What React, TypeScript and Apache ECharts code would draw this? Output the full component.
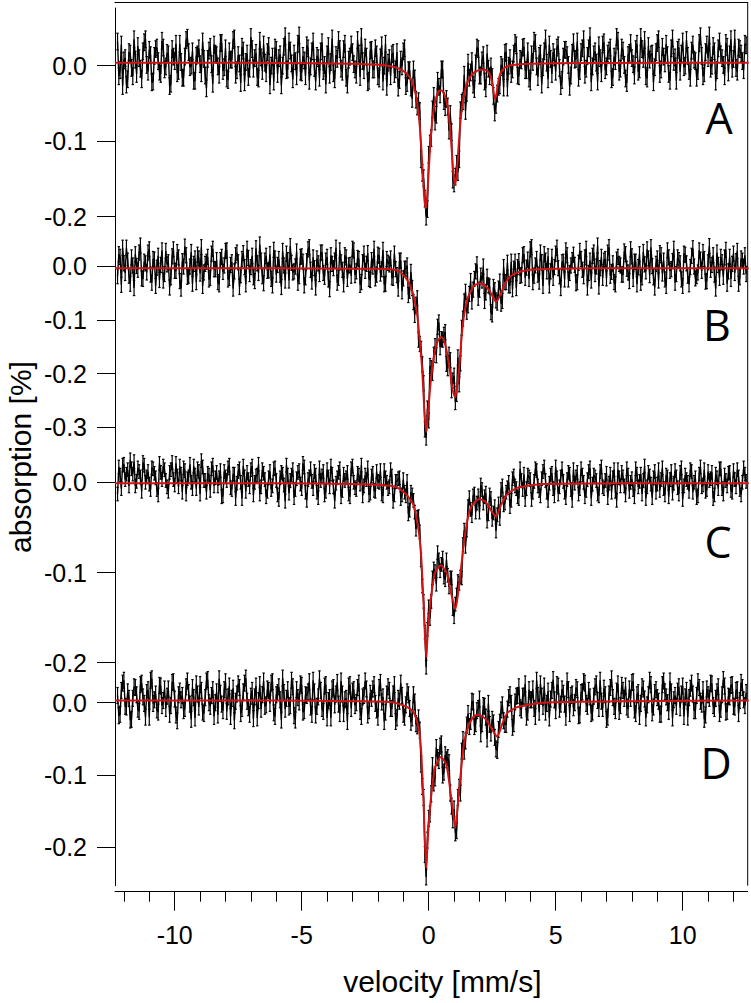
import { useEffect, useRef } from "react";
import * as echarts from "echarts";

// channel velocities (mm/s): even channels start at V_START, odd channels at V_START_ODD
const V_START = -12.25;
const V_START_ODD = -12.2;
const V_STEP = 0.1;

// measured absorption, in units of 0.001 %  (even channels)
const dataA = [
  32,-6,-27,10,-18,16,-14,8,26,-4,19,35,-8,14,-21,22,6,-11,24,-1,
  15,-24,12,29,-7,5,-16,34,18,0,-20,13,23,-10,9,-30,20,2,28,14,
  -12,30,-2,-17,19,8,36,-6,3,25,-22,16,-4,22,10,-15,33,-7,4,18,
  -26,12,24,-11,15,0,39,-5,20,-18,6,29,-8,13,-14,23,-1,32,-21,10,
  19,-7,-25,26,5,-10,14,34,-4,22,-16,8,28,2,-12,16,38,-6,12,-20,
  21,-5,15,-17,27,0,-28,10,15,-11,18,-19,-1,23,-23,-6,-44,-17,-54,-60,
  -142,-176,-190,-103,-58,-74,-20,-38,-5,-55,-54,-64,-151,-147,-141,-59,-47,-60,4,-9,
  -25,3,22,-13,14,-30,-4,-1,-40,-52,-28,1,-29,18,0,-11,16,27,-14,7,
  25,-6,-17,15,33,-1,13,-25,19,4,28,-11,11,24,-3,-19,21,14,-28,17,
  8,32,-7,23,-12,13,39,-1,19,-21,10,28,-6,16,24,-15,6,33,-4,20,
  -17,14,30,2,22,-8,38,9,-14,26,15,-22,18,35,-5,12,29,-11,23,5,
  -20,24,16,-2,34,-7,20,8,-16,30,13,-10,28,40,0,19,-6,32,10,-14,
  25,15,-4,36,-8,22,6,29,
];
// odd channels
const dataA2 = [
  -14,28,7,-25,18,-3,35,-11,10,-18,31,1,21,-22,13,24,-8,33,-5,17,
  -27,22,6,-10,29,-16,12,37,-2,19,-20,15,2,32,-13,9,25,-24,16,-1,
  30,-7,23,-19,8,34,-12,14,-23,20,5,-15,38,-4,17,-17,11,28,-10,26,
  0,-21,21,10,-26,25,-6,32,3,16,-14,40,-9,7,27,-20,19,-3,13,-16,
  31,1,15,-12,36,-18,9,22,-8,29,-25,12,18,-5,34,-15,6,24,-22,20,
  -5,23,-14,11,-21,29,4,-14,17,-5,-29,8,19,-27,-6,-29,-5,-45,-47,-124,
  -149,-200,-118,-96,-40,-65,-28,-5,-47,-44,-86,-88,-156,-130,-124,-49,-12,-36,-16,6,
  -31,24,-13,7,-21,16,-14,-15,-62,-37,-26,-2,17,-29,10,-5,30,-13,9,24,
  -6,19,-21,5,30,-15,16,-2,36,-18,9,18,-8,27,-27,12,21,1,-13,31,
  9,-16,18,35,-4,23,-22,15,4,27,-10,31,-1,20,-18,12,38,-8,24,1,
  -23,17,10,-13,29,-5,22,34,-17,8,16,-2,30,-11,25,3,14,-20,36,11,
  21,-8,32,0,13,-16,28,6,-7,39,-14,18,10,-4,26,-21,23,15,1,30,
  -9,35,9,-3,24,16,-6,27,
];
const dataB = [
  -19,17,34,-13,10,-33,1,22,-7,38,-24,5,25,-16,13,-37,19,2,-27,28,
  7,-21,31,-9,16,-42,-1,20,-18,26,4,-30,14,35,-12,8,-25,23,-6,11,
  -34,17,1,29,-22,7,-10,25,-39,13,-2,32,-15,19,-28,5,40,-19,10,-9,
  22,-36,14,2,-16,28,-27,11,37,-12,-1,-31,17,8,-21,31,-7,16,-40,5,
  25,-13,10,-25,20,-4,34,-22,7,-34,16,1,-18,29,-10,13,-30,23,4,-24,
  11,32,-16,19,-6,-34,13,3,-21,23,-17,10,-47,-5,1,-46,-41,-91,-60,-145,
  -183,-304,-265,-186,-199,-149,-113,-151,-137,-123,-190,-175,-213,-253,-170,-181,-98,-48,-73,-28,
  -44,-10,-59,-18,-1,-49,-36,-86,-39,-64,-42,-70,-2,-30,-36,8,-5,-41,9,-17,
  22,-3,-24,35,-18,13,-29,7,22,-10,-36,17,-2,34,-19,7,-25,20,-13,11,
  2,-30,28,-7,16,-40,10,19,-15,38,-4,-22,13,25,-18,5,-34,17,1,-16,
  22,-12,31,-24,8,-2,-31,26,-10,14,35,-21,4,-27,20,10,-37,16,-6,32,
  -15,11,-25,23,5,-34,19,-1,-19,29,-9,13,-28,37,2,-16,25,-22,7,16,
  -33,17,4,-13,28,-21,10,20,
];
const dataB2 = [
  22,-35,5,34,-18,16,-41,0,25,-23,8,-12,31,-31,12,-3,-26,29,-15,3,
  -40,18,-9,26,-28,9,36,-20,-1,-33,14,21,-14,-37,4,17,-22,32,-6,-30,
  11,-11,28,-25,2,-42,20,7,-17,24,-34,15,-2,-21,33,-13,10,-32,19,-8,
  -24,30,-16,13,-39,1,23,-27,6,-10,27,-19,18,-36,9,35,-29,-4,14,-15,
  25,-20,17,-43,4,10,-31,29,-7,20,-24,2,32,-17,15,-35,7,-9,24,-26,
  -1,-23,21,-14,30,-33,6,14,-22,-6,-42,10,-23,-5,-54,-11,-67,-72,-137,-154,
  -218,-319,-287,-190,-165,-166,-105,-136,-128,-182,-165,-231,-204,-238,-220,-115,-66,-85,-52,-66,
  -24,3,-44,-27,-65,-20,-38,-90,-45,-68,-29,-65,-30,6,-36,-43,8,-2,-18,20,
  -22,12,31,-30,1,-16,25,-37,10,18,-10,-22,23,-4,-41,8,29,-25,1,21,
  -32,6,13,-19,32,-13,-27,25,-1,-38,17,10,-23,35,-11,-30,12,4,-16,27,
  -5,-28,18,8,-34,22,-21,3,31,-17,0,-40,14,24,-14,-25,29,-9,9,-31,
  16,5,-37,21,-18,-2,33,-23,-12,12,26,-29,7,-7,20,-42,2,17,-20,30,
  -10,-24,23,9,-33,14,-1,-15,
];
const dataC = [
  -13,8,19,3,14,25,9,-4,16,6,22,0,12,-8,15,5,-14,11,18,2,
  -10,14,3,21,-5,9,16,-13,6,0,18,-7,12,24,2,-11,8,15,-4,11,
  5,-16,12,2,19,-8,9,-1,15,-18,6,11,-5,18,0,8,-13,14,3,-10,
  12,-4,16,-14,5,9,-21,8,2,14,-8,11,-2,21,-11,3,15,-7,8,-17,
  2,12,-10,6,18,-5,-1,11,-16,9,5,-13,15,0,-8,8,19,-4,3,-14,
  7,-9,12,0,-13,13,0,-5,7,-14,1,5,-14,-11,1,-31,-14,-33,-39,-55,
  -115,-166,-163,-151,-106,-99,-78,-98,-84,-108,-103,-106,-140,-135,-110,-105,-69,-71,-27,-30,
  -15,-33,-15,-3,-23,-12,-35,-18,-34,-54,-24,-8,-25,-11,0,-20,7,-7,-18,2,
  9,-7,6,-19,1,13,-9,4,17,-11,-1,10,-15,5,-5,15,-11,3,9,-20,
  -1,11,-7,8,-16,3,16,-2,6,-13,12,-5,2,-17,9,5,-10,14,-4,6,
  -14,8,0,-8,15,-5,9,2,-18,11,-2,5,-11,14,3,-7,8,-16,12,-1,
  6,-13,16,-4,3,-10,12,0,-17,9,-5,14,-8,2,11,-14,5,15,-7,8,
  -4,11,-11,3,14,-8,0,9,
];
const dataC2 = [
  17,-7,20,9,-4,15,23,1,12,-10,19,6,-2,16,10,-8,21,3,14,-5,
  11,22,-3,7,18,-11,13,4,20,-7,8,15,-13,17,2,10,-9,19,5,-4,
  13,-15,6,16,-6,9,-18,12,0,18,-10,3,14,-14,7,20,-5,10,-16,5,
  -8,15,2,-19,11,-3,19,-12,8,-17,4,13,-7,17,-20,6,1,12,-11,16,
  7,-14,14,-5,9,-21,5,15,-9,2,11,-16,18,-6,10,-2,-15,8,16,-12,
  10,-10,1,13,-15,5,-7,14,-21,1,4,-18,3,-15,-35,-11,-20,-52,-38,-86,
  -132,-205,-138,-132,-96,-113,-86,-91,-105,-86,-116,-106,-149,-125,-112,-106,-53,-53,-17,-37,
  -13,-23,-33,-8,-16,-43,-14,-41,-27,-36,-40,-4,-23,-6,-27,4,-4,-16,15,-8,
  -19,8,3,-11,15,-4,-15,12,2,-20,8,-7,17,-13,6,1,-17,11,-8,14,
  6,-13,15,0,-9,12,-18,8,2,-15,17,-7,10,-1,-11,14,-20,5,11,-4,
  15,-10,4,-16,9,1,-13,18,-5,7,-17,12,-2,-9,16,-14,6,3,-12,13,
  -6,11,-19,8,0,14,-11,5,-15,17,-3,-10,12,4,-18,9,-7,15,-13,2,
  10,-9,13,-5,6,-14,16,1,
];
const dataD = [
  10,-16,27,-5,15,-24,6,21,-9,25,8,-20,18,31,-1,12,-13,23,3,-8,
  19,-4,29,-17,11,4,-11,22,14,-23,7,26,-6,17,-15,30,0,10,-19,15,
  33,-2,18,-12,23,6,-25,12,21,-8,27,2,-16,17,8,-21,25,11,-5,19,
  -1,29,-19,14,4,34,-9,18,-4,22,-24,7,26,-13,11,15,-6,31,-17,8,
  17,-12,25,3,-21,21,12,-2,30,-15,6,23,-8,18,0,27,-19,10,19,-11,
  6,25,-10,21,1,-26,12,17,-8,25,-21,2,10,-20,15,-8,-21,1,-32,-38,
  -116,-210,-190,-154,-87,-104,-76,-60,-100,-72,-76,-125,-162,-180,-131,-125,-51,-53,-15,-26,
  1,-29,-8,-43,-4,-20,-1,-42,-28,-64,-37,-10,-25,-30,7,-1,-29,9,22,-10,
  9,-20,18,4,-8,31,-13,9,23,-1,-21,17,4,25,-9,19,-2,30,-15,12,
  0,18,-17,15,27,-5,8,-13,22,3,31,-8,11,-20,21,7,-11,26,-4,17,
  23,-9,6,29,-15,14,-1,19,-21,11,25,-6,18,2,-16,30,8,-12,15,4,
  -5,22,12,-19,17,7,27,-11,10,21,-2,-23,19,6,26,-8,15,-15,11,23,
  -12,8,25,-6,18,3,21,-4,
];
const dataD2 = [
  -18,17,31,-6,6,-23,22,11,-12,27,-1,14,-20,33,4,-10,24,-4,19,9,
  -16,28,5,-25,16,10,-8,30,-2,21,-21,12,25,-13,7,32,-5,18,0,-17,
  13,-11,29,8,-19,20,2,26,-15,15,34,-7,9,-22,23,3,-9,30,-3,17,
  27,-14,11,22,-24,14,6,-6,31,-18,18,1,24,-11,10,29,-16,15,-5,33,
  -8,23,-21,7,19,-3,28,-15,12,4,-26,25,16,-4,21,-12,8,30,-17,13,
  19,-1,-20,28,8,-13,22,-8,12,-26,6,27,-16,-3,11,-27,11,-29,-21,-85,
  -131,-241,-160,-126,-111,-62,-80,-57,-96,-79,-83,-143,-147,-177,-117,-67,-67,-31,-33,2,
  -33,-11,5,-29,-5,-50,-30,-23,-48,-66,-27,-3,-30,-9,11,-34,1,10,-7,9,
  26,-13,4,19,-19,10,26,-5,-13,16,5,32,-11,23,-2,13,-20,18,10,-7,
  21,-18,14,29,-1,17,-15,9,26,-8,2,20,-23,12,33,-5,16,-12,24,6,
  -6,19,28,-10,11,-19,22,5,-3,31,-14,14,7,-16,25,15,0,30,-21,10,
  16,-7,23,8,-20,20,12,-11,29,2,18,-17,11,27,-4,6,22,-9,32,-13,
  9,24,-5,17,-15,28,4,14,
];

// statistical error (half length of error bar), %
const errA = 0.011;
const errB = 0.014;
const errC = 0.0075;
const errD = 0.011;

// fitted curves: velocity (mm/s) and absorption (0.001 %)
const fitAV = [-12.35,-6,-3,-2,-1.5,-1.2,-1.0,-0.85,-0.7,-0.6,-0.5,-0.42,-0.35,-0.28,-0.22,-0.17,-0.12,-0.07,-0.02,0.05,0.12,0.2,0.3,0.4,0.48,0.56,0.65,0.75,0.84,0.92,0.98,1.04,1.1,1.17,1.25,1.35,1.47,1.6,1.75,1.9,2.05,2.2,2.32,2.42,2.5,2.56,2.62,2.68,2.75,2.85,3.0,3.2,3.5,4.0,5,7,12.6];
const fitAY = [3.9,3.7,2.7,1.2,-0.9,-3.5,-6.8,-10.9,-18.0,-26.2,-39.5,-56.9,-80.3,-114.3,-150.3,-177.1,-188.6,-177.9,-151.9,-111.4,-80.2,-57.3,-41.5,-34.3,-32.5,-34.3,-40.5,-55.8,-82.0,-117.6,-145.3,-157.7,-144.3,-110.4,-74.5,-45.7,-27.2,-16.7,-10.4,-7.0,-5.4,-5.3,-7.2,-12.3,-22.5,-35.8,-44.5,-35.3,-19.8,-8.3,-2.5,0.2,1.6,2.5,3.2,3.6,3.9];
const fitBV = [-12.35,-6,-3,-2,-1.5,-1.2,-0.95,-0.75,-0.6,-0.45,-0.35,-0.26,-0.18,-0.1,-0.02,0.09,0.2,0.3,0.4,0.48,0.58,0.7,0.82,0.94,1.04,1.12,1.2,1.3,1.4,1.55,1.78,2.02,2.2,2.35,2.49,2.58,2.65,2.72,2.85,3.0,3.2,3.5,4.0,5,8,12.6];
const fitBY = [-4,-4,-5,-5,-6,-9,-19,-35,-55,-92,-140,-190,-260,-309,-270,-210,-170,-147,-136,-132,-136,-156,-190,-230,-244,-225,-190,-130,-90,-58,-37,-32,-36,-43,-54,-62,-67,-63,-50,-33,-20,-12,-7,-5,-4,-4];
const fitCV = [-12.35,-6,-3,-2,-1.3,-0.9,-0.6,-0.4,-0.3,-0.2,-0.1,-0.02,0.08,0.25,0.48,0.7,0.9,1.05,1.2,1.4,1.6,1.8,2.0,2.25,2.45,2.65,2.85,3.1,3.5,4.5,8,12.6];
const fitCY = [-1,-1,-2,-3,-5,-13,-25,-53,-80,-135,-194,-160,-130,-100,-92,-100,-125,-141,-114,-64,-33,-22,-18.5,-22,-31,-38,-25,-13,-6,-2,-1,-1];
const fitDV = [-12.35,-6,-3,-1.5,-0.9,-0.6,-0.4,-0.3,-0.2,-0.1,-0.02,0.08,0.25,0.48,0.7,0.9,1.05,1.2,1.4,1.6,1.8,2.0,2.25,2.45,2.7,2.9,3.1,3.5,4.5,8,12.6];
const fitDY = [3,3,2,1,-5,-13,-35,-65,-140,-229,-180,-135,-90,-75,-86,-135,-173,-120,-54,-29,-18,-17,-23,-34,-47,-29,-14,-6,0,2,3];

const panelLabels = ["A", "B", "C", "D"];
const yTicks = [
  [0, -0.1, -0.2],
  [0, -0.1, -0.2, -0.3],
  [0, -0.1, -0.2],
  [0, -0.1, -0.2],
];
const xMajorTicks = [-10, -5, 0, 5, 10];
const xMinorTicks = [-12, -11, -9, -8, -7, -6, -4, -3, -2, -1, 1, 2, 3, 4, 6, 7, 8, 9, 11, 12];

const X_MIN = -12.35;
const X_MAX = 12.56;
const FONT = "'Liberation Sans', Arial, Helvetica, sans-serif";

// layout (pixels)
const PLOT_LEFT = 115;
const PLOT_RIGHT = 3.3;
const panels = [
  { top: 8, height: 232, min: -0.2309, max: 0.0764 },
  { top: 240, height: 212, min: -0.3459, max: 0.04835 },
  { top: 452, height: 223, min: -0.2136, max: 0.0336 },
  { top: 675, height: 210.7, min: -0.2531, max: 0.0383 },
];
const labelPos = [
  [719, 117],
  [717, 324],
  [718, 541],
  [716, 762],
];

export default function App() {
  const ref = useRef<HTMLDivElement>(null);
  useEffect(() => {
    if (!ref.current) return;
    const chart = echarts.init(ref.current, undefined, { renderer: "svg" });
    const datasets = [
      [dataA, dataA2],
      [dataB, dataB2],
      [dataC, dataC2],
      [dataD, dataD2],
    ];
    const errs = [errA, errB, errC, errD];
    const fits = [
      [fitAV, fitAY],
      [fitBV, fitBY],
      [fitCV, fitCY],
      [fitDV, fitDY],
    ];

    const grid = panels.map((p) => ({
      left: PLOT_LEFT,
      right: PLOT_RIGHT,
      top: p.top,
      height: p.height,
    }));

    const xAxis: any[] = panels.map((_, k) =>
      k < 3
        ? { type: "value", gridIndex: k, min: X_MIN, max: X_MAX, show: false }
        : {
            type: "value",
            gridIndex: k,
            min: X_MIN,
            max: X_MAX,
            position: "bottom",
            offset: 6,
            axisLine: { show: true, onZero: false, lineStyle: { color: "#000", width: 1 } },
            axisTick: {
              show: true,
              customValues: xMajorTicks,
              length: 19,
              lineStyle: { color: "#000", width: 1 },
            },
            axisLabel: {
              show: true,
              customValues: xMajorTicks,
              fontSize: 25,
              fontFamily: FONT,
              color: "#000",
              margin: 31,
            },
            splitLine: { show: false },
            name: "velocity [mm/s]",
            nameLocation: "middle",
            nameGap: 75,
            nameTextStyle: {
              fontSize: 30,
              fontFamily: FONT,
              color: "#000",
              padding: [0, 0, 0, 22],
            },
          }
    );
    xAxis.push({
      type: "value",
      gridIndex: 3,
      min: X_MIN,
      max: X_MAX,
      position: "bottom",
      offset: 6,
      axisLine: { show: false, onZero: false },
      axisTick: {
        show: true,
        customValues: xMinorTicks,
        length: 10,
        lineStyle: { color: "#000", width: 1 },
      },
      axisLabel: { show: false },
      splitLine: { show: false },
    });

    const yAxis = panels.map((p, k) => ({
      type: "value",
      gridIndex: k,
      min: p.min,
      max: p.max,
      position: "left",
      axisLine: { show: true, onZero: false, lineStyle: { color: "#000", width: 1 } },
      axisTick: {
        show: true,
        customValues: yTicks[k],
        length: 18,
        lineStyle: { color: "#000", width: 1 },
      },
      axisLabel: {
        show: true,
        customValues: yTicks[k],
        formatter: (v: number) => v.toFixed(1),
        fontSize: 25,
        fontFamily: FONT,
        color: "#000",
        margin: 28,
      },
      splitLine: { show: false },
    }));

    const series: any[] = [];
    datasets.forEach(([even, odd], k) => {
      const pts: number[][] = [];
      even.forEach((y, i) => {
        pts.push([V_START + V_STEP * i, y / 1000, errs[k]]);
        if (i < odd.length) pts.push([V_START_ODD + V_STEP * i, odd[i] / 1000, errs[k]]);
      });
      series.push({
        type: "line",
        xAxisIndex: k,
        yAxisIndex: k,
        data: pts.map((p) => [p[0], p[1]]),
        showSymbol: false,
        clip: false,
        lineStyle: { color: "#000", width: 1.4 },
        z: 2,
      });
      series.push({
        type: "custom",
        xAxisIndex: k,
        yAxisIndex: k,
        clip: false,
        data: pts,
        encode: { x: 0, y: 1 },
        renderItem: (_params: any, api: any) => {
          const v = api.value(0);
          const y = api.value(1);
          const e = api.value(2);
          const p1 = api.coord([v, y + e]);
          const p2 = api.coord([v, y - e]);
          const st = { stroke: "#000", lineWidth: 1.2 };
          return {
            type: "group",
            children: [
              { type: "line", shape: { x1: p1[0], y1: p1[1], x2: p2[0], y2: p2[1] }, style: st },
              { type: "line", shape: { x1: p1[0] - 1.2, y1: p1[1], x2: p1[0] + 1.2, y2: p1[1] }, style: st },
              { type: "line", shape: { x1: p2[0] - 1.2, y1: p2[1], x2: p2[0] + 1.2, y2: p2[1] }, style: st },
            ],
          };
        },
        z: 2,
      });
      const [fv, fy] = fits[k];
      series.push({
        type: "line",
        xAxisIndex: k,
        yAxisIndex: k,
        data: fv.map((v, j) => [v, fy[j] / 1000]),
        showSymbol: false,
        smooth: 0.2,
        clip: false,
        lineStyle: { color: "#d01414", width: 2 },
        z: 5,
      });
    });

    const graphic: any[] = [
      { type: "line", shape: { x1: 114.5, y1: 2.5, x2: 748, y2: 2.5 }, style: { stroke: "#000", lineWidth: 1 } },
      { type: "line", shape: { x1: 747.7, y1: 2, x2: 747.7, y2: 885.7 }, style: { stroke: "#000", lineWidth: 1 } },
      {
        type: "text",
        x: 20,
        y: 457,
        rotation: Math.PI / 2,
        style: {
          text: "absorption [%]",
          x: 0,
          y: 0,
          align: "center",
          verticalAlign: "middle",
          textAlign: "center",
          textVerticalAlign: "middle",
          fontSize: 30,
          fontFamily: FONT,
          fill: "#000",
        },
      },
    ];
    panelLabels.forEach((t, k) => {
      graphic.push({
        type: "text",
        x: labelPos[k][0],
        y: labelPos[k][1],
        style: {
          text: t,
          x: 0,
          y: 0,
          align: "center",
          verticalAlign: "middle",
          textAlign: "center",
          textVerticalAlign: "middle",
          fontSize: 43,
          fontFamily: "'Open Sans', 'Noto Sans', sans-serif",
          fill: "#000",
        },
      });
    });

    chart.setOption({
      animation: false,
      backgroundColor: "#fff",
      grid,
      xAxis,
      yAxis,
      series,
      graphic,
    });
    return () => chart.dispose();
  }, []);

  return (
    <div
      ref={ref}
      style={{ position: "absolute", left: 0, top: 0, width: 751, height: 1003 }}
    />
  );
}
